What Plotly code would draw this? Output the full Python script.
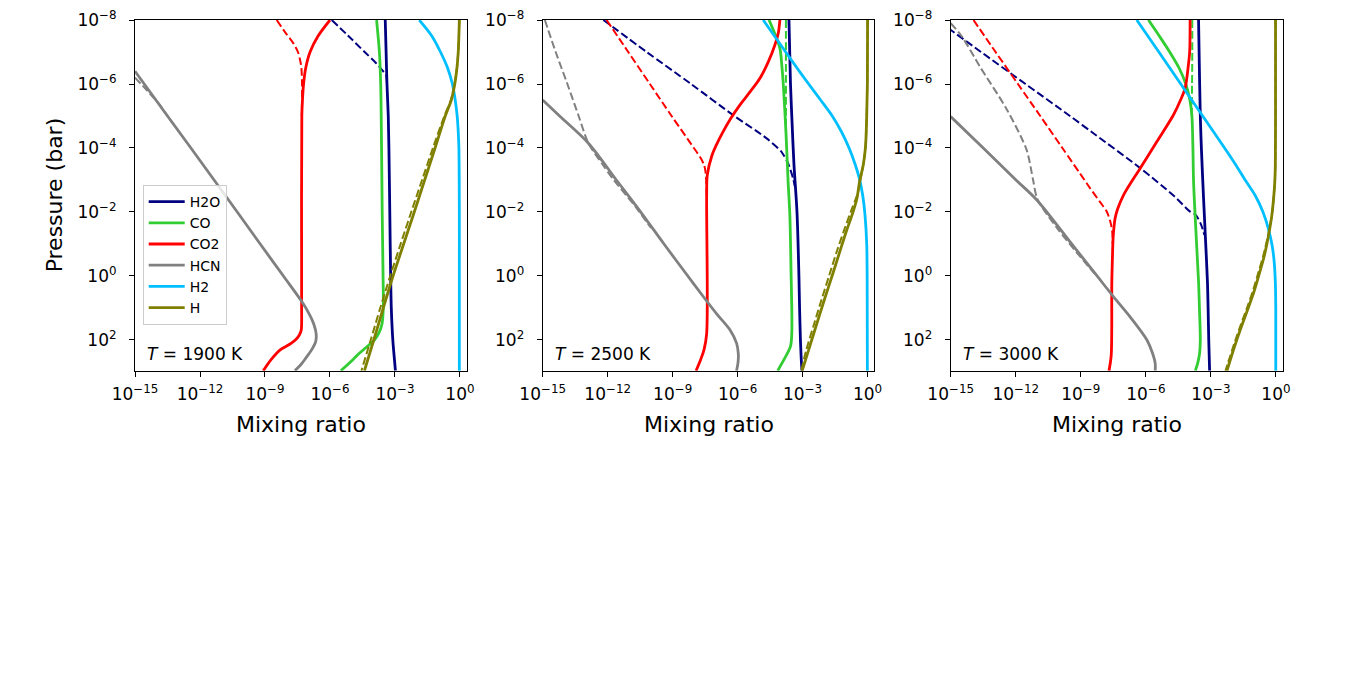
import numpy as np
import plotly.graph_objects as go

# ---------------- chart values (log10 pressure [bar], log10 mixing ratio) ----------------
SPECIES = ["H2O", "CO", "CO2", "HCN", "H2", "H"]
COLORS = ["#000080", "#32cd32", "#ff0000", "#808080", "#00bfff", "#808000"]
TEMPERATURES = [1900, 2500, 3000]
X_TICK_EXP = [-15, -12, -9, -6, -3, 0]
Y_TICK_EXP = [-8, -6, -4, -2, 0, 2]
X_TITLE = "Mixing ratio"
Y_TITLE = "Pressure (bar)"

# ---- T = 1900 K ----
T1900_H2O_p = [-8, -7, -6, -5, -4, -2, 0, 1, 2, 2.5, 2.96]
T1900_H2O_x = [-3.45, -3.41, -3.37, -3.31, -3.28, -3.24, -3.2, -3.17, -3.1, -3.04, -2.98]
T1900_H2O_dp = [-8, -7.5, -7, -6.65, -6.4, -6.25, -6.0]
T1900_H2O_dx = [-5.92, -5.15, -4.4, -3.87, -3.55, -3.4, -3.37]

T1900_CO_p = [-8, -7, -6, -4, -2, 0, 1, 1.5, 1.76, 2.0, 2.22, 2.4, 2.6, 2.96]
T1900_CO_x = [-3.85, -3.72, -3.66, -3.62, -3.59, -3.55, -3.54, -3.6, -3.73, -3.95, -4.31, -4.62, -4.92, -5.5]

T1900_CO2_p = [-8, -7.5, -7, -6.5, -6, -5.5, -5, 0, 1, 1.5, 1.7, 1.85, 2.0, 2.15, 2.31, 2.6, 2.96]
T1900_CO2_x = [-6.0, -6.55, -6.92, -7.12, -7.22, -7.27, -7.3, -7.31, -7.31, -7.31, -7.33, -7.42, -7.6, -7.9, -8.3, -8.7, -9.08]
T1900_CO2_dp = [-8, -7.6, -7.27, -7.0, -6.75, -6.5, -6.0, -5.0]
T1900_CO2_dx = [-8.46, -8.05, -7.69, -7.48, -7.38, -7.32, -7.29, -7.3]

T1900_HCN_p = [-6.4, -5, -4, -3, -2, -1, 0, 0.8, 1.2, 1.5, 1.8, 2.05, 2.31, 2.55, 2.75, 2.96]
T1900_HCN_x = [-15, -13.5, -12.42, -11.35, -10.28, -9.22, -8.15, -7.3, -6.95, -6.75, -6.64, -6.66, -6.85, -7.1, -7.32, -7.62]
T1900_HCN_dp = [-6.2, -5.8, -5.4, -5, -4.5]
T1900_HCN_dx = [-15, -14.45, -13.92, -13.5, -12.96]

T1900_H2_p = [-8, -7.5, -7, -6.5, -6, -5.5, -5, -4.5, -4, -2, 0, 2.96]
T1900_H2_x = [-1.88, -1.3, -0.9, -0.57, -0.35, -0.22, -0.13, -0.08, -0.05, -0.03, -0.03, -0.03]

T1900_H_p = [-8, -7.5, -7, -6.5, -6, -5.5, -5, -4, -3, -2, -1, 0, 1, 2, 2.96]
T1900_H_x = [-0.03, -0.05, -0.08, -0.14, -0.24, -0.4, -0.68, -1.15, -1.63, -2.11, -2.6, -3.09, -3.54, -3.98, -4.41]
T1900_H_dp = [-8, -7.5, -7, -6.5, -6, -5.5, -5, -4, -3, -2, -1, 0, 1, 2, 2.96]
T1900_H_dx = [-0.03, -0.05, -0.08, -0.14, -0.25, -0.42, -0.72, -1.25, -1.75, -2.25, -2.74, -3.22, -3.68, -4.12, -4.55]

# ---- T = 2500 K ----
T2500_H2O_p = [-8, -6, -5, -3.5, -2, 0, 1, 2, 2.5, 2.96]
T2500_H2O_x = [-3.63, -3.56, -3.5, -3.4, -3.26, -3.17, -3.14, -3.1, -3.07, -3.03]
T2500_H2O_dp = [-8, -7, -6, -5, -4.3, -3.9, -3.78, -3.52, -3.05, -2.8]
T2500_H2O_dx = [-12.2, -10.2, -8.15, -6.15, -4.66, -4.0, -3.88, -3.67, -3.44, -3.36]

T2500_CO_p = [-8, -7.6, -7.12, -6.5, -6.07, -4.51, -2.95, -1.91, 0, 1, 1.8, 2.2, 2.6, 2.96]
T2500_CO_x = [-4.55, -4.3, -4.05, -3.95, -3.9, -3.77, -3.67, -3.59, -3.53, -3.5, -3.5, -3.56, -3.85, -4.15]
T2500_CO_dp = [-8, -7, -6, -5, -4.5]
T2500_CO_dx = [-3.77, -3.77, -3.77, -3.77, -3.77]

T2500_CO2_p = [-8, -7.6, -7.22, -6.7, -6.18, -5.76, -5.34, -4.92, -4.51, -4.1, -3.78, -3.16, -2.5, 1.8, 2.3, 2.6, 2.96]
T2500_CO2_x = [-4.05, -4.12, -4.28, -4.58, -4.97, -5.42, -5.9, -6.32, -6.67, -6.98, -7.18, -7.4, -7.43, -7.43, -7.55, -7.7, -7.92]
T2500_CO2_dp = [-8, -7, -6, -5, -4, -3.68, -3.45, -3.2, -2.9, -2.5]
T2500_CO2_dx = [-12.05, -11.05, -10.05, -9.05, -8.02, -7.7, -7.54, -7.47, -7.44, -7.43]

T2500_HCN_p = [-5.5, -5, -4.15, -3, -2.17, -1, 0, 0.65, 1.2, 1.69, 2.1, 2.42, 2.7, 2.96]
T2500_HCN_x = [-15, -14.22, -12.89, -11.6, -10.66, -9.4, -8.3, -7.58, -6.95, -6.35, -6.05, -5.97, -5.98, -6.05]
T2500_HCN_dp = [-8, -7, -6, -5, -4.15, -3.5, -3, -2.17, -1.5]
T2500_HCN_dx = [-14.9, -14.4, -13.86, -13.34, -12.89, -12.25, -11.72, -10.72, -10.0]

T2500_H2_p = [-8, -7, -6.38, -6, -5.5, -5.03, -4.5, -3.99, -3.5, -3.05, -2.5, -1.91, -1, 0, 2.96]
T2500_H2_x = [-4.82, -3.78, -3.13, -2.72, -2.17, -1.66, -1.2, -0.85, -0.58, -0.38, -0.22, -0.12, -0.04, -0.02, -0.01]

T2500_H_p = [-8, -6, -5, -4, -3.47, -2.95, -2.4, -1.9, -1.4, -0.81, 0, 0.75, 1.5, 2.31, 2.96]
T2500_H_x = [0.0, -0.01, -0.04, -0.1, -0.2, -0.37, -0.5, -0.72, -0.98, -1.26, -1.64, -2.0, -2.35, -2.72, -3.02]
T2500_H_dp = [-8, -4, -3, -2.6, -2.0, -1.4, -0.81, 0, 0.75, 1.5, 2.31, 2.96]
T2500_H_dx = [0.0, -0.1, -0.33, -0.45, -0.78, -1.1, -1.4, -1.78, -2.13, -2.47, -2.83, -3.06]

# ---- T = 3000 K ----
T3000_H2O_p = [-8, -6, -5, -4, -2.43, -1, 0.18, 1, 2, 2.96]
T3000_H2O_x = [-3.57, -3.52, -3.49, -3.44, -3.34, -3.24, -3.16, -3.13, -3.1, -3.06]
T3000_H2O_dp = [-7.75, -7, -6, -5, -4.46, -3.37, -2.5, -2.01, -1.91, -1.6, -1.28]
T3000_H2O_dx = [-15.12, -13.6, -11.55, -9.5, -8.42, -6.26, -4.7, -3.96, -3.7, -3.45, -3.3]

T3000_CO_p = [-8, -7.5, -7, -6.5, -6, -5.5, -5.03, -4, -2.95, -0.86, 0.18, 1, 2, 2.4, 2.7, 2.96]
T3000_CO_x = [-5.88, -5.38, -4.9, -4.47, -4.16, -3.97, -3.88, -3.83, -3.8, -3.65, -3.57, -3.53, -3.49, -3.52, -3.6, -3.72]
T3000_CO_dp = [-8, -7, -6, -5.4, -5.0]
T3000_CO_dx = [-3.86, -3.86, -3.87, -3.88, -3.88]

T3000_CO2_p = [-8, -7, -6.59, -5.87, -5.5, -5.03, -4.2, -3.37, -2.53, -2.1, -1.8, -1.3, -0.87, 0.18, 2.5, 2.96]
T3000_CO2_x = [-3.96, -3.98, -4.04, -4.19, -4.4, -4.73, -5.49, -6.26, -7.03, -7.3, -7.42, -7.5, -7.53, -7.57, -7.6, -7.7]
T3000_CO2_dp = [-8, -7, -6, -5, -4, -3, -2.74, -2.3, -2.01, -1.7, -1.38, -1.0]
T3000_CO2_dx = [-13.95, -12.93, -11.9, -10.87, -9.85, -8.83, -8.57, -8.1, -7.8, -7.64, -7.55, -7.53]

T3000_HCN_p = [-4.98, -4, -3, -2.375, -1, 0, 0.65, 1.3, 2.0, 2.4, 2.73, 2.96]
T3000_HCN_x = [-15, -13.5, -11.99, -11.03, -9.42, -8.25, -7.49, -6.7, -5.95, -5.7, -5.57, -5.57]
T3000_HCN_dp = [-7.9, -7.5, -6.54, -5.19, -3.94, -3.0, -2.4, -1.5, -0.5, 0]
T3000_HCN_dx = [-15, -14.5, -13.65, -12.4, -11.5, -11.2, -11.0, -10.1, -8.9, -8.27]

T3000_H2_p = [-8, -7, -6, -5, -4, -3.5, -3, -2.53, -2, -1.5, -1.0, -0.5, 0.18, 1, 2.96]
T3000_H2_x = [-6.42, -5.4, -4.39, -3.38, -2.37, -1.88, -1.42, -0.97, -0.6, -0.36, -0.19, -0.09, -0.03, -0.01, -0.01]

T3000_H_p = [-8, -5, -3.5, -3, -2.5, -1.9, -1.28, -0.6, 0, 0.5, 1, 1.5, 2, 2.5, 2.96]
T3000_H_x = [-0.02, -0.02, -0.03, -0.05, -0.1, -0.19, -0.34, -0.55, -0.8, -1.02, -1.28, -1.55, -1.81, -2.05, -2.26]
T3000_H_dp = [-8, -5, -3.5, -3, -2.5, -1.9, -1.28, -0.6, 0, 0.5, 1, 1.5, 2, 2.5, 2.96]
T3000_H_dx = [-0.02, -0.02, -0.03, -0.05, -0.1, -0.19, -0.36, -0.6, -0.86, -1.08, -1.34, -1.61, -1.87, -2.11, -2.33]

X_RANGE_EXP = [-15, 0.31]
Y_RANGE_EXP = [2.96, -8]

# ---------------- assemble ----------------
g = globals()
FONT = "DejaVu Sans"
W, H = 1350, 675
X_DOMAINS = [[135 / W, 466.7 / W], [542.7 / W, 874.3 / W], [950.7 / W, 1282.7 / W]]
Y_DOMAIN = [1 - 370.7 / H, 1 - 20 / H]

fig = go.Figure()
for i, T in enumerate(TEMPERATURES):
    xa = "x" if i == 0 else f"x{i + 1}"
    ya = "y" if i == 0 else f"y{i + 1}"
    for s, c in zip(SPECIES, COLORS):
        p = g[f"T{T}_{s}_p"]
        x = g[f"T{T}_{s}_x"]
        fig.add_trace(go.Scatter(
            x=10 ** np.array(x, float), y=10 ** np.array(p, float), mode="lines",
            line=dict(color=c, width=2.8, shape="spline", smoothing=0.9),
            name=s, legendgroup=s, showlegend=(i == 0), xaxis=xa, yaxis=ya,
            hoverinfo="skip"))
        if f"T{T}_{s}_dp" in g:
            dp = g[f"T{T}_{s}_dp"]
            dx = g[f"T{T}_{s}_dx"]
            fig.add_trace(go.Scatter(
                x=10 ** np.array(dx, float), y=10 ** np.array(dp, float), mode="lines",
                line=dict(color=c, width=2.0, dash="7.7px,3.3px", shape="spline", smoothing=0.8),
                name=s + " (eq.)", legendgroup=s, showlegend=False, xaxis=xa, yaxis=ya,
                hoverinfo="skip"))

def sup(e):
    return "10<sup>" + (("\u2212" + str(-e)) if e < 0 else str(e)) + "</sup>"

axis_common = dict(type="log", showline=True, linecolor="black", linewidth=1.1, mirror=True,
                   ticks="outside", ticklen=5, tickwidth=1.1, tickcolor="black",
                   showgrid=False, zeroline=False, automargin=False,
                   tickfont=dict(family=FONT, size=17, color="black"))

layout = dict(template="none", width=W, height=H, margin=dict(l=0, r=0, t=0, b=0, autoexpand=False),
              paper_bgcolor="white", plot_bgcolor="white", font=dict(family=FONT, color="black"),
              legend=dict(x=142.7 / W, y=1 - 185 / H, xanchor="left", yanchor="top",
                          bgcolor="rgba(255,255,255,0.8)", bordercolor="#cccccc", borderwidth=1,
                          itemwidth=36,
                          font=dict(family=FONT, size=14, color="black"), tracegroupgap=0))
annotations = []
for i, T in enumerate(TEMPERATURES):
    sx = "" if i == 0 else str(i + 1)
    layout["xaxis" + sx] = dict(axis_common, domain=X_DOMAINS[i], anchor="y" + sx,
                                range=X_RANGE_EXP, ticklabelstandoff=3,
                                tickvals=[10.0 ** e for e in X_TICK_EXP],
                                ticktext=[sup(e) for e in X_TICK_EXP])
    layout["yaxis" + sx] = dict(axis_common, domain=Y_DOMAIN, anchor="x" + sx,
                                range=Y_RANGE_EXP, ticklabelstandoff=9,
                                tickvals=[10.0 ** e for e in Y_TICK_EXP],
                                ticktext=[sup(e) for e in Y_TICK_EXP])
    annotations.append(dict(text=f"<i>T</i> = {T} K", xref=f"x{sx} domain", yref="paper",
                            x=10 / 331.7, y=1 - 354 / H, xanchor="left", yanchor="middle",
                            showarrow=False, font=dict(family=FONT, size=17, color="black")))
    annotations.append(dict(text=X_TITLE, xref="paper", yref="paper",
                            x=(X_DOMAINS[i][0] + X_DOMAINS[i][1]) / 2, y=1 - 424.5 / H,
                            xanchor="center", yanchor="middle", showarrow=False,
                            font=dict(family=FONT, size=22, color="black")))
annotations.append(dict(text=Y_TITLE, xref="paper", yref="paper", x=54 / W,
                        y=(Y_DOMAIN[0] + Y_DOMAIN[1]) / 2, xanchor="center", yanchor="middle",
                        textangle=-90, showarrow=False,
                        font=dict(family=FONT, size=22, color="black")))
layout["annotations"] = annotations
fig.update_layout(**layout)
fig.write_html("out.html")
